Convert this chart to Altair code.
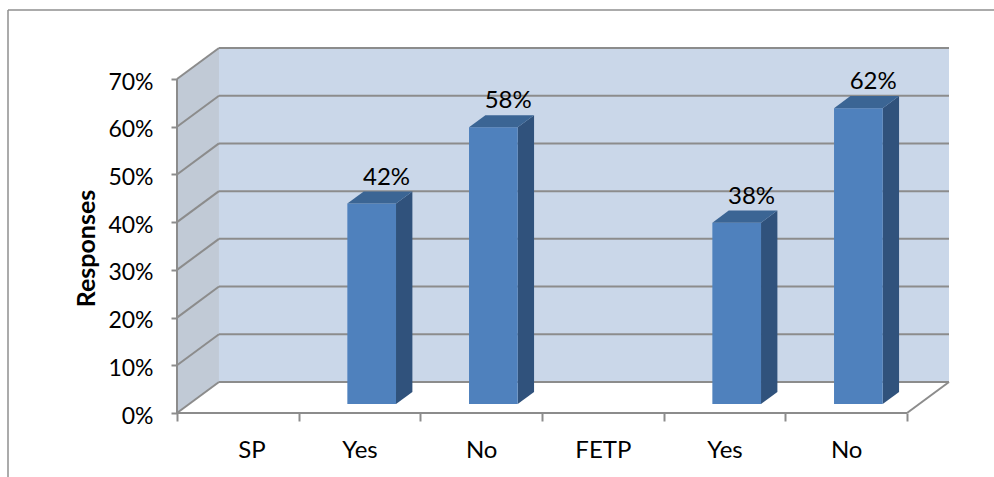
import altair as alt
import pandas as pd

# ---- data ----
categories = ["SP", "Yes", "No", "FETP", "Yes", "No"]
responses = [None, 0.42, 0.58, None, 0.38, 0.62]
y_ticks = [0.0, 0.1, 0.2, 0.3, 0.4, 0.5, 0.6, 0.7]

# ---- style / 3-D geometry constants ----
N = len(categories)
YMAX = 0.7
DX = 0.345      # depth shift in category units
DY = 0.065      # depth shift in value units
BW = 0.40       # bar width (category units)
F = 0.29        # depth fraction of bar front face
G = 0.39        # bar depth fraction
CAT_PX = 121.67
Y_PX = 477.6
W = round((N + DX) * CAT_PX)
H = round((YMAX + DY) * Y_PX)
PAD_L = 177
PAD_T = 413 - H

FONT = "Lato"
FS = 23
BACK = "#cad7e9"
LEFTW = "#c1cad6"
GRID = "#8c8c8c"
FRONT = "#4f81bd"
SIDE = "#30527c"
TOP = "#3b6594"

xs = alt.Scale(domain=[0, N + DX], nice=False, zero=False)
ys = alt.Scale(domain=[0, YMAX + DY], nice=False, zero=False)

label_expr = "[" + ",".join(f"'{c}'" for c in categories) + ",''][datum.value]"
XAXIS = alt.Axis(values=list(range(N + 1)), labelExpr=label_expr,
                 labelOffset=CAT_PX / 2, domain=False, grid=False,
                 tickSize=8, tickColor=GRID, tickWidth=2,
                 labelPadding=17, labelFont=FONT, labelFontSize=24,
                 labelColor="black")
YAXIS = alt.Axis(values=y_ticks, format=".0%", domain=False, grid=False,
                 tickSize=6, tickColor=GRID, tickWidth=2,
                 labelPadding=18, labelFont=FONT, labelFontSize=FS,
                 labelColor="black", labelOffset=3,
                 titleFont=FONT, titleFontSize=25, titleFontWeight="bold",
                 titleColor="black", titleAngle=270, titleX=-91,
                 titleY=248 - PAD_T, titleAlign="center",
                 titleBaseline="middle")


def X(f="x", **kw):
    return alt.X(f"{f}:Q", scale=xs, axis=XAXIS, title=None, **kw)


def Y(f="y", **kw):
    return alt.Y(f"{f}:Q", scale=ys, axis=YAXIS, title="Responses", **kw)


# back wall
back_df = pd.DataFrame({"x": [DX], "x2": [N + DX], "y": [DY], "y2": [YMAX + DY]})
back = alt.Chart(back_df).mark_rect(color=BACK).encode(
    x=X(), x2="x2:Q", y=Y(), y2="y2:Q")

# left wall
left_df = pd.DataFrame({"x": [0, DX], "y": [0, DY], "y2": [YMAX, YMAX + DY]})
left = alt.Chart(left_df).mark_area(color=LEFTW, orient="vertical").encode(
    x=X(), y=Y(stack=False), y2="y2:Q")

# grid lines and frame edges
segs = []
for v in y_ticks:
    segs.append((DX, v + DY, N + DX, v + DY))
    segs.append((0, v, DX, v + DY))
segs.append((0, 0, 0, YMAX))
segs.append((0, 0, N, 0))
segs.append((N, 0, N + DX, DY))
seg_df = pd.DataFrame(segs, columns=["x", "y", "x2", "y2"])
grid = alt.Chart(seg_df).mark_rule(color=GRID, strokeWidth=2).encode(
    x=X(), y=Y(), x2="x2:Q", y2="y2:Q")

# bars
front_rows, side_rows, top_rows, lab_rows = [], [], [], []
for i, (c, v) in enumerate(zip(categories, responses)):
    if v is None:
        continue
    cx = i + 0.5
    xl = cx - BW / 2 + F * DX
    xr = cx + BW / 2 + F * DX
    front_rows.append({"x": xl, "x2": xr, "y": F * DY, "y2": v + F * DY})
    side_rows.append({"bar": i, "x": xr, "y": F * DY, "y2": v + F * DY})
    side_rows.append({"bar": i, "x": xr + G * DX, "y": (F + G) * DY, "y2": v + (F + G) * DY})
    top_rows.append({"bar": i, "y": v + F * DY, "x": xl, "x2": xr})
    top_rows.append({"bar": i, "y": v + (F + G) * DY, "x": xl + G * DX, "x2": xr + G * DX})
    lab_rows.append({"x": cx, "y": v, "t": f"{round(v * 100)}%"})

front = alt.Chart(pd.DataFrame(front_rows)).mark_rect(color=FRONT).encode(
    x=X(), x2="x2:Q", y=Y(), y2="y2:Q")
side = alt.Chart(pd.DataFrame(side_rows)).mark_area(color=SIDE, orient="vertical").encode(
    x=X(), y=Y(stack=False), y2="y2:Q", detail="bar:N")
top = alt.Chart(pd.DataFrame(top_rows)).mark_area(color=TOP, orient="horizontal").encode(
    y=Y(), x=X(stack=False), x2="x2:Q", detail="bar:N")
labels = alt.Chart(pd.DataFrame(lab_rows)).mark_text(
    font=FONT, fontSize=24, color="black", dx=27, dy=-35, baseline="middle"
).encode(x=X(), y=Y(), text="t:N")

# outer frame of the picture
border_df = pd.DataFrame({"k": [0]})
bl = alt.Chart(border_df).mark_rule(color="#8f8f8f", strokeWidth=1.5).encode(
    x=alt.value(8 - PAD_L), y=alt.value(10 - PAD_T), y2=alt.value(600))
bt = alt.Chart(border_df).mark_rule(color="#8f8f8f", strokeWidth=1.5).encode(
    x=alt.value(8 - PAD_L), x2=alt.value(1000), y=alt.value(10 - PAD_T))

chart = alt.layer(back, left, grid, side, front, top, labels, bl, bt).properties(
    width=W, height=H,
    autosize=alt.AutoSizeParams(type="none"),
    padding={"left": PAD_L, "top": PAD_T, "right": 994 - PAD_L - W, "bottom": 477 - PAD_T - H},
    background="white",
).configure_view(strokeWidth=0)

chart.save("out.html", embed_options={"renderer": "svg", "actions": False})
